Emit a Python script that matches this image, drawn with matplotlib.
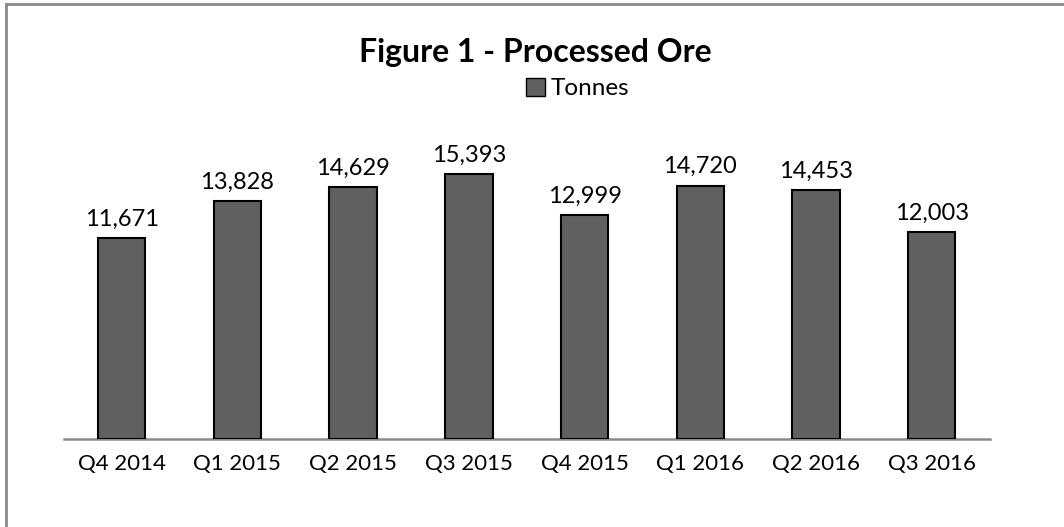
import matplotlib
matplotlib.use("Agg")
import matplotlib.pyplot as plt
from matplotlib.patches import Patch
from matplotlib.lines import Line2D

categories = ["Q4 2014", "Q1 2015", "Q2 2015", "Q3 2015", "Q4 2015", "Q1 2016", "Q2 2016", "Q3 2016"]
tonnes = [11671, 13828, 14629, 15393, 12999, 14720, 14453, 12003]

plt.rcParams['font.family'] = ['Lato', 'DejaVu Sans']

fig = plt.figure(figsize=(10.64, 5.27), dpi=100)
ax = fig.add_axes([0.060, 0.167, 0.870, 0.588])

x = list(range(len(categories)))
ax.bar(x, tonnes, width=0.41, color='#606060', edgecolor='black', linewidth=1.5, zorder=3)
for xi, v in zip(x, tonnes):
    ax.annotate(f"{v:,}", (xi, v), xytext=(0, 6), textcoords='offset points',
                ha='center', va='bottom', fontsize=17, color='black')

ax.set_xlim(-0.5, len(categories) - 0.5)
ax.set_ylim(0, 18000)
ax.set_xticks(x)
ax.set_xticklabels(categories, fontsize=16)
ax.tick_params(axis='x', length=0, pad=11)
ax.set_yticks([])
for s in ['left', 'right', 'top']:
    ax.spines[s].set_visible(False)
ax.spines['bottom'].set_color('#8a8a8a')
ax.spines['bottom'].set_linewidth(1.8)

fig.text(0.503, 0.900, "Figure 1 - Processed Ore", ha='center', va='center',
         fontsize=23, fontweight='bold')
fig.legend(handles=[Patch(facecolor='#606060', edgecolor='black', linewidth=1.0, label='Tonnes')],
           loc='center', bbox_to_anchor=(0.543, 0.832), frameon=False, fontsize=17.5,
           handlelength=0.75, handleheight=0.75, handletextpad=0.25, borderpad=0)

# outer border (left and top visible)
fig.add_artist(Line2D([0.0052, 0.0052], [0, 0.9925], transform=fig.transFigure, color='#8a8a8a', linewidth=2))
fig.add_artist(Line2D([0.0052, 1.0], [0.9925, 0.9925], transform=fig.transFigure, color='#8a8a8a', linewidth=2))

fig.savefig("out.png", dpi=100)
